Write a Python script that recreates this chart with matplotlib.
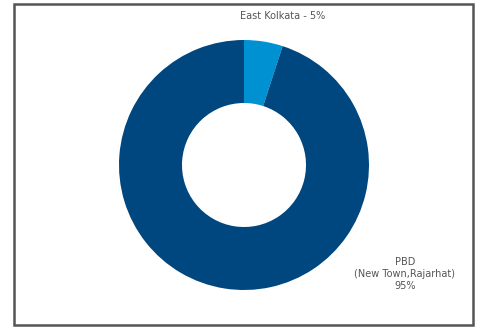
import matplotlib.pyplot as plt
from matplotlib.patches import Rectangle

labels = ['East Kolkata - 5%', 'PBD\n(New Town,Rajarhat)\n95%']
shares = [5, 95]
colors = ['#0091d2', '#00467f']

fig = plt.figure(figsize=(4.78, 3.27), dpi=100)
ax = fig.add_axes([0, 0, 1, 1])
ax.set_xlim(0, 478)
ax.set_ylim(0, 327)
ax.set_aspect('equal')
ax.axis('off')

# outer frame
ax.add_patch(Rectangle((14.5, 2), 458.5, 321, fill=False,
                       edgecolor='#555555', linewidth=1.8))

ax.pie(shares, colors=colors, startangle=90, counterclock=False,
       center=(244, 162), radius=125, frame=True,
       wedgeprops=dict(width=63, edgecolor='none'))
ax.set_xlim(0, 478)
ax.set_ylim(0, 327)
ax.axis('off')

ax.text(283, 311, labels[0], ha='center', va='center', fontsize=7, color='#555555')
ax.text(405, 53, labels[1], ha='center', va='center', fontsize=7,
        color='#555555', linespacing=1.3)

fig.savefig('out.png', dpi=100)
